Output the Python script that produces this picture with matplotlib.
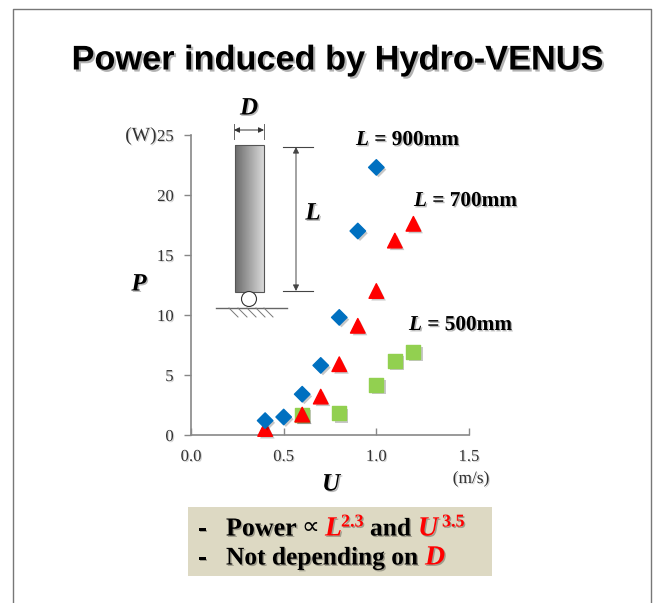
import numpy as np
import matplotlib
matplotlib.use('Agg')
import matplotlib.pyplot as plt
import matplotlib.patheffects as pe
from matplotlib.patches import Rectangle, Circle

# Datos
u_900 = [0.4, 0.5, 0.6, 0.7, 0.8, 0.9, 1.0]
p_900 = [1.2, 1.5, 3.4, 5.8, 9.8, 17.0, 22.3]
u_700 = [0.4, 0.6, 0.7, 0.8, 0.9, 1.0, 1.1, 1.2]
p_700 = [0.5, 1.7, 3.2, 5.9, 9.1, 12.0, 16.2, 17.6]
u_500 = [0.6, 0.8, 1.0, 1.1, 1.2]
p_500 = [1.7, 1.8, 4.2, 6.2, 6.9]
x_ticks = [0.0, 0.5, 1.0, 1.5]
y_ticks = [0, 5, 10, 15, 20, 25]

W, H = 664, 603
SERIF = ['Liberation Serif', 'DejaVu Sans']
shadow = [pe.withSimplePatchShadow(offset=(1.0, -1.0), alpha=0.28, shadow_rgbFace='k')]
mark_shadow = [pe.withSimplePatchShadow(offset=(1.6, -1.6), alpha=0.22, shadow_rgbFace='k')]
soft = [pe.withSimplePatchShadow(offset=(0.8, -0.8), alpha=0.18, shadow_rgbFace='k')]

fig = plt.figure(figsize=(W / 100, H / 100), dpi=100)

# capa de fondo en pixeles
bg = fig.add_axes([0, 0, 1, 1])
bg.set_xlim(0, W)
bg.set_ylim(H, 0)
bg.axis('off')


def txt(x, y, s, size=12, color='black', weight='normal', style='normal', ha='left', fx=shadow, family=SERIF):
    return bg.text(x, y + 2, s, fontsize=size, color=color, fontweight=weight, fontstyle=style,
                   ha=ha, va='center', family=family, path_effects=fx, zorder=6)


# marco
bg.plot([13, 13, 651, 651], [H, 9, 9, H], color='#777777', lw=1.0)
txt(337, 59, 'Power induced by Hydro-VENUS', size=24.7, weight='bold', ha='center',
    family=['Liberation Sans'], fx=[pe.withSimplePatchShadow(offset=(1.5, -1.5), alpha=0.3, shadow_rgbFace='k')])

# esquema de la columna
grad = np.linspace(0.42, 0.85, 60).reshape(1, -1)
bg.imshow(grad, cmap='gray', vmin=0, vmax=1, extent=[235, 264, 292, 145], aspect='auto', zorder=2)
bg.set_xlim(0, W)
bg.set_ylim(H, 0)
bg.add_patch(Rectangle((235, 145), 29, 147, fill=False, ec='#555555', lw=0.8, zorder=3))
bg.add_patch(Circle((249, 299), 7.5, fc='white', ec='#333333', lw=0.8, zorder=3))
bg.plot([216, 287], [308, 308], color='#666666', lw=1.0)
for x0 in [229, 238, 247, 256, 264]:
    bg.plot([x0, x0 + 9], [308, 317], color='#777777', lw=0.7)
for x0 in [234, 264]:
    bg.plot([x0, x0], [124, 139], color='#666666', lw=0.7)
for y0 in [147, 291]:
    bg.plot([283, 313], [y0, y0], color='#444444', lw=0.8)
bg.annotate('', xy=(234, 130), xytext=(264, 130), arrowprops=dict(arrowstyle='<|-|>', color='#333333', lw=0.7, shrinkA=0, shrinkB=0, mutation_scale=8))
bg.annotate('', xy=(296, 147), xytext=(296, 291), arrowprops=dict(arrowstyle='<|-|>', color='#444444', lw=0.7, shrinkA=0, shrinkB=0, mutation_scale=9))

txt(249, 106, 'D', size=18, weight='bold', style='italic', ha='center')
txt(313, 211, 'L', size=18, weight='bold', style='italic', ha='center')
txt(139, 282, 'P', size=18, weight='bold', style='italic', ha='center')
txt(331, 482, 'U', size=18, weight='bold', style='italic', ha='center')
txt(141, 134, '(W)', size=14, color='#333333', ha='center', fx=soft)
txt(471, 477, '(m/s)', size=12.5, color='#333333', ha='center', fx=soft)

# etiquetas de L
for lx, ly, lab in [(356, 138, '900mm'), (414, 199, '700mm'), (409, 323, '500mm')]:
    txt(lx, ly, 'L', size=15.3, weight='bold', style='italic')
    txt(lx + 13, ly, ' = ' + lab, size=15.3, weight='bold')

# recuadro inferior
bg.add_patch(Rectangle((188, 507), 304, 69, fc='#DDD9C3', ec='none', zorder=1))
txt(198, 527, '-', size=18.3, weight='bold')
txt(226, 527, 'Power', size=18.7, weight='bold')
txt(301, 526, '\u221d', size=18, fx=[])
txt(325, 527, 'L', size=20, weight='bold', style='italic', color='#FF0000')
txt(341, 520, '2.3', size=13, weight='bold', color='#FF0000')
txt(370, 527, 'and', size=18.3, weight='bold')
txt(418, 527, 'U', size=20, weight='bold', style='italic', color='#FF0000')
txt(442, 520, '3.5', size=13, weight='bold', color='#FF0000')
txt(198, 556, '-', size=18.3, weight='bold')
txt(226, 556, 'Not depending on', size=18.3, weight='bold')
txt(425, 556, 'D', size=20, weight='bold', style='italic', color='#FF0000')

# grafico
ax = fig.add_axes([191 / W, 1 - 435 / H, 278 / W, 300 / H])
ax.patch.set_alpha(0)
ax.set_xlim(0, 1.5)
ax.set_ylim(0, 25)
ax.set_xticks(x_ticks)
ax.set_yticks(y_ticks)
ax.set_xticklabels(['%.1f' % v for v in x_ticks], family=SERIF, fontsize=12, color='#333333')
ax.set_yticklabels([str(v) for v in y_ticks], family=SERIF, fontsize=12, color='#333333')
ax.tick_params(axis='x', direction='in', length=5, width=1, color='#888888', pad=10)
ax.tick_params(axis='y', direction='out', length=5, width=1, color='#888888', pad=7.5)
for lab in ax.get_xticklabels() + ax.get_yticklabels():
    lab.set_path_effects(soft)
for s in ['top', 'right']:
    ax.spines[s].set_visible(False)
for s in ['left', 'bottom']:
    ax.spines[s].set_color('#888888')
    ax.spines[s].set_linewidth(1.2)

ax.scatter(u_500, p_500, marker='s', s=100, color='#92D050', clip_on=False, zorder=3, path_effects=mark_shadow)
ax.scatter(u_700, p_700, marker='^', s=110, color='#FF0000', clip_on=False, zorder=4, path_effects=mark_shadow)
ax.scatter(u_900, p_900, marker='D', s=62, color='#0070C0', clip_on=False, zorder=5, path_effects=mark_shadow)

fig.savefig('out.png', dpi=100)
